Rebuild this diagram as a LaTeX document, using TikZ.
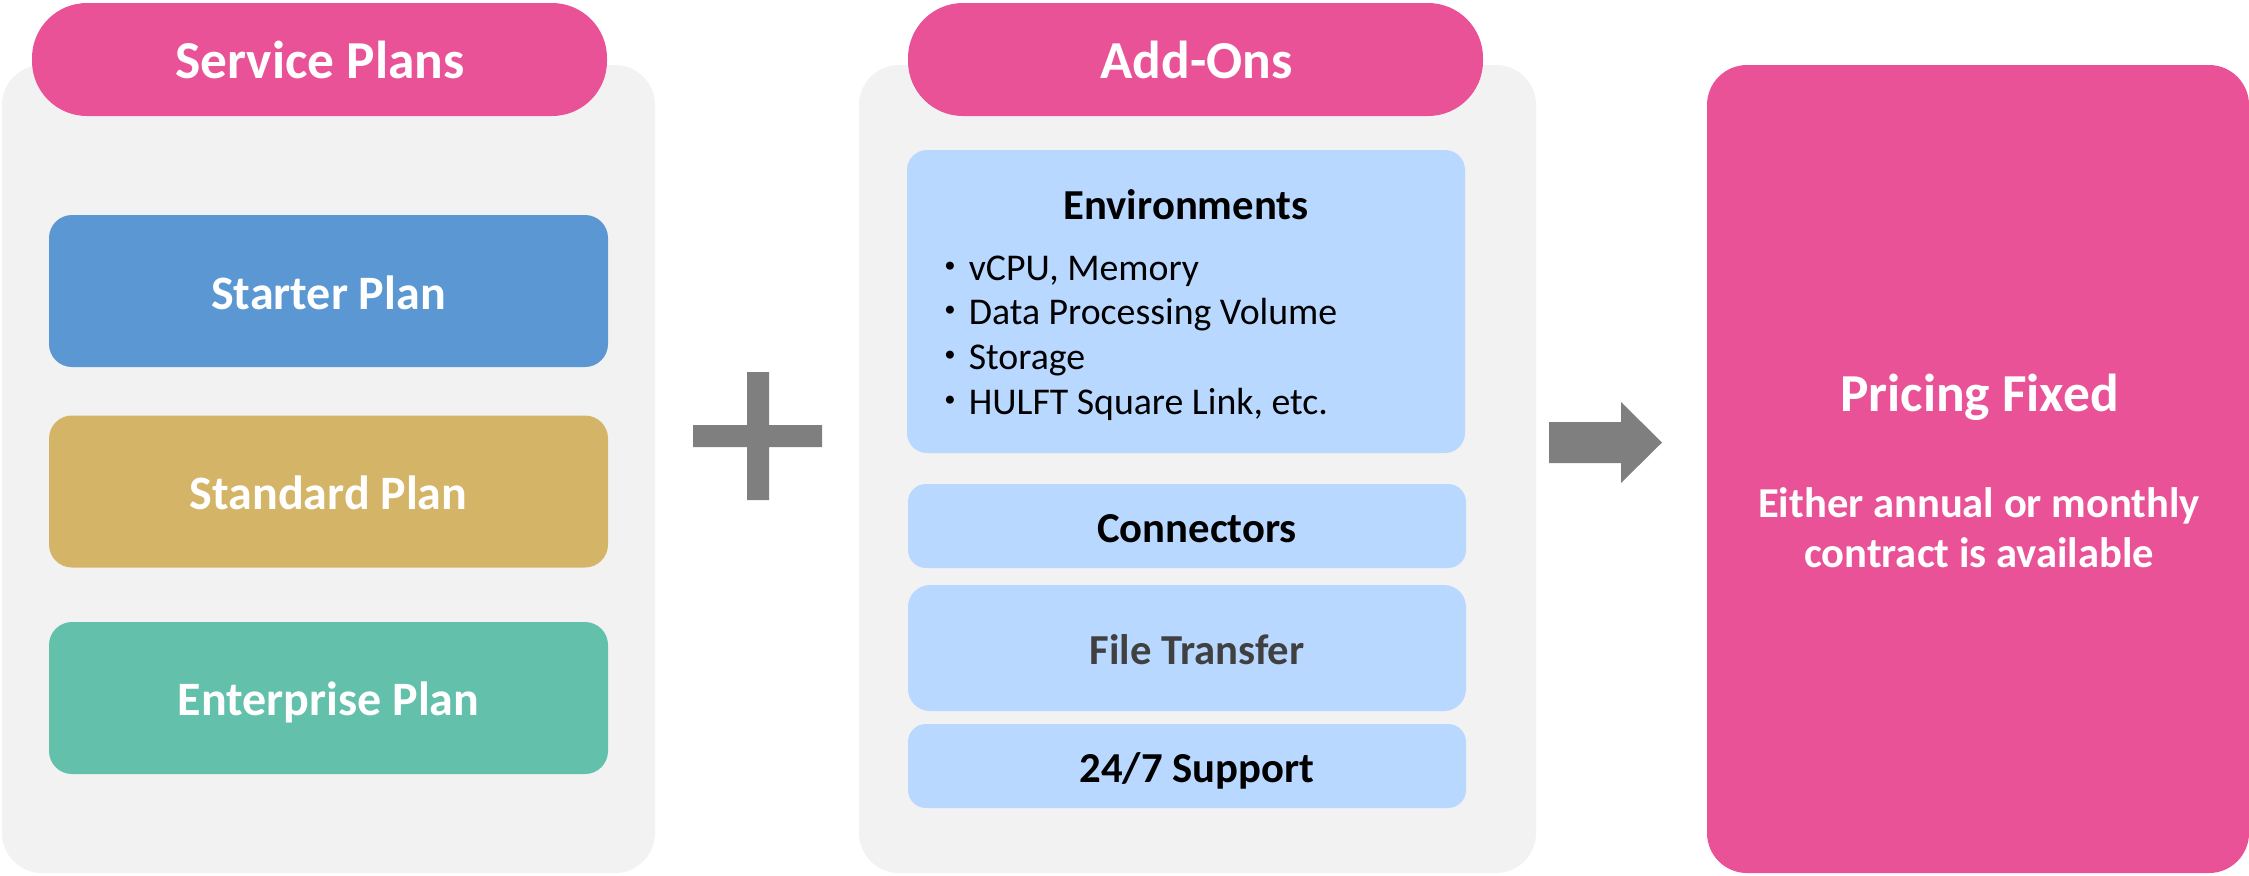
\documentclass[tikz,border=0pt]{standalone}
\usepackage{fontspec}
\setmainfont{Carlito}
\newfontfamily\cjk{Noto Sans CJK JP}
\definecolor{pinkc}{HTML}{EA5297}
\definecolor{panelc}{HTML}{F2F2F2}
\definecolor{bluec}{HTML}{5B97D2}
\definecolor{goldc}{HTML}{D4B467}
\definecolor{greenc}{HTML}{62C0AB}
\definecolor{lightc}{HTML}{B8D8FF}
\definecolor{arrowc}{HTML}{7F7F7F}
\definecolor{darkc}{HTML}{404040}
\newcommand{\fs}[1]{\fontsize{#1}{#1}\selectfont}
\tikzset{
  x=0.5pt,y=-0.5pt,
  boxbase/.style={inner sep=0pt,outer sep=0pt,align=center},
  panel/.style={boxbase,fill=panelc,rounded corners=20pt},
  pill/.style={boxbase,fill=pinkc,rounded corners=27.5pt,minimum width=287.5pt,minimum height=56.5pt},
  plan/.style={boxbase,rounded corners=11.5pt,minimum width=279.5pt,minimum height=76pt},
  addon/.style={boxbase,fill=lightc,minimum width=279pt,rounded corners=9pt},
  headtext/.style={boxbase,text=white,font=\bfseries\fs{26.7}},
  plantext/.style={boxbase,text=white,font=\bfseries\fs{24}},
  addontext/.style={boxbase,text=black,font=\bfseries\fs{21.35}},
  listline/.style={inner sep=0pt,outer sep=0pt,anchor=base west,text=black,font=\fs{18.9}},
  symbolc/.style={fill=arrowc},
}
\begin{document}
\begin{tikzpicture}
\useasboundingbox (0,0) rectangle (2249,875);
% panels
\node[panel,minimum width=326.5pt,minimum height=404pt] (planspanel) at (328.5,469) {};
\node[panel,minimum width=338.5pt,minimum height=404pt] (addonspanel) at (1197.5,469) {};
% headers
\node[pill] (planshead) at (319.5,59.5) {};
\node[headtext] (planstitle) at (320,59.5) {Service Plans};
\node[pill] (addonshead) at (1195.5,59.5) {};
\node[headtext] (addonstitle) at (1196.5,59.5) {Add-Ons};
% plans
\node[plan,fill=bluec] (starter) at (328.5,291) {};
\node[plantext] (startertext) at (328.5,292.5) {Starter Plan};
\node[plan,fill=goldc] (standard) at (328.5,491.5) {};
\node[plantext] (standardtext) at (328.5,493) {Standard Plan};
\node[plan,fill=greenc] (enterprise) at (328.5,698) {};
\node[plantext] (enterprisetext) at (328.5,702) {Enterprise Plan};
% add-ons
\node[addon,minimum height=151.5pt,rounded corners=10pt] (env) at (1186,301.5) {};
\node[addontext] (envtitle) at (1186,205) {Environments};
\node[listline] (l1) at (931,280) {{\cjk ・}vCPU, Memory};
\node[listline] (l2) at (931,324.5) {{\cjk ・}Data Processing Volume};
\node[listline] (l3) at (931,369.5) {{\cjk ・}Storage};
\node[listline] (l4) at (931,414.5) {{\cjk ・}HULFT Square Link, etc.};
\node[addon,minimum height=42pt] (conn) at (1187,526) {};
\node[addontext] (conntext) at (1197,529) {Connectors};
\node[addon,minimum height=63pt,rounded corners=11pt] (file) at (1187,648) {};
\node[addontext,text=darkc] (filetext) at (1197,650) {File Transfer};
\node[addon,minimum height=42pt] (support) at (1187,766) {};
\node[addontext] (supporttext) at (1197,771) {24/7 Support};
% result
\node[panel,fill=pinkc,minimum width=271pt,minimum height=404pt] (result) at (1978,469) {};
\node[headtext] (pricing) at (1979.5,397) {Pricing Fixed};
\node[boxbase,text=white,font=\bfseries\fs{21.3}\setlength{\baselineskip}{25pt}] (contract) at (1979,528) {Either annual or monthly\\contract is available};
% plus and arrow
\fill[symbolc] (747,372) -- (769,372) -- (769,425) -- (822,425) -- (822,447) -- (769,447) -- (769,500) -- (747,500) -- (747,447) -- (693,447) -- (693,425) -- (747,425) -- cycle;
\fill[symbolc] (1549,422) -- (1621,422) -- (1621,402) -- (1662,442.5) -- (1621,483) -- (1621,463) -- (1549,463) -- cycle;
\end{tikzpicture}
\end{document}
